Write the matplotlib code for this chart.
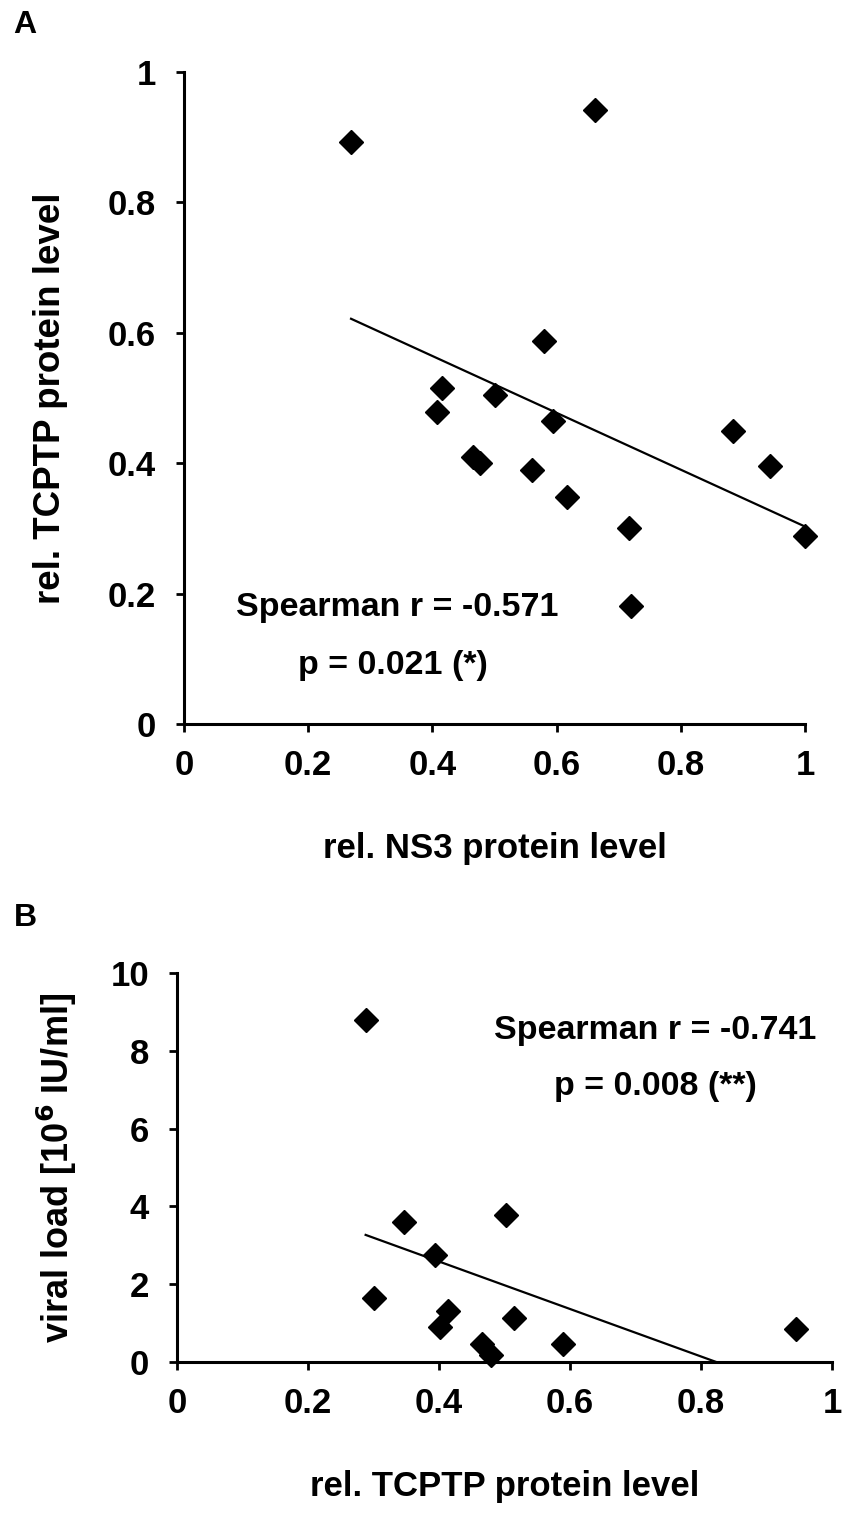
import numpy as np
import matplotlib.pyplot as plt

plt.rcParams['font.family'] = ['Liberation Sans', 'DejaVu Sans']
plt.rcParams['font.weight'] = 'bold'
plt.rcParams['axes.labelweight'] = 'bold'
plt.rcParams['mathtext.default'] = 'bf'

# panel A: NS3 vs TCPTP
ns3_a = [0.269, 0.662, 0.415, 0.408, 0.500, 0.580, 0.594, 0.465, 0.477,
         0.560, 0.616, 0.717, 0.720, 0.884, 0.943, 1.000]
tcptp_a = [0.892, 0.942, 0.515, 0.478, 0.505, 0.587, 0.464, 0.410, 0.401,
           0.389, 0.348, 0.300, 0.181, 0.449, 0.395, 0.288]

# panel B: TCPTP vs viral load
tcptp_b = [0.288, 0.347, 0.503, 0.394, 0.300, 0.413, 0.402, 0.515, 0.466,
           0.479, 0.589, 0.945]
viral_b = [8.79, 3.61, 3.79, 2.76, 1.64, 1.32, 0.89, 1.13, 0.47, 0.17, 0.45, 0.85]

ticks_a_x = [0, 0.2, 0.4, 0.6, 0.8, 1]
ticks_a_y = [0, 0.2, 0.4, 0.6, 0.8, 1]
ticks_b_x = [0, 0.2, 0.4, 0.6, 0.8, 1]
ticks_b_y = [0, 2, 4, 6, 8, 10]


def style_axes(ax, xt, yt):
    ax.spines['top'].set_visible(False)
    ax.spines['right'].set_visible(False)
    ax.spines['left'].set_linewidth(2.2)
    ax.spines['bottom'].set_linewidth(2.2)
    ax.set_xticks(xt)
    ax.set_yticks(yt)
    ax.set_xticklabels([f'{t:g}' for t in xt])
    ax.set_yticklabels([f'{t:g}' for t in yt])
    ax.tick_params(direction='out', length=6, width=2, labelsize=25)
    ax.tick_params(axis='y', pad=14)
    ax.tick_params(axis='x', pad=12)


def scatter_fit(ax, x, y):
    x = np.array(x)
    y = np.array(y)
    ax.plot(x, y, 'D', color='black', markersize=12, clip_on=False, zorder=3)
    k, b = np.polyfit(x, y, 1)
    xs = np.array([x.min(), x.max()])
    ax.plot(xs, k * xs + b, color='black', linewidth=1.6)


fig = plt.figure(figsize=(8.42, 15.19), dpi=100)

ax1 = fig.add_axes([184 / 842, 1 - 724 / 1519, 621 / 842, 652 / 1519])
scatter_fit(ax1, ns3_a, tcptp_a)
ax1.set_xlim(0, 1)
ax1.set_ylim(0, 1)
style_axes(ax1, ticks_a_x, ticks_a_y)
ax1.set_xlabel('rel. NS3 protein level', fontsize=25, labelpad=36)
ax1.set_ylabel('rel. TCPTP protein level', fontsize=26.5, labelpad=29)
ax1.text(0.344, 0.178, 'Spearman r = -0.571', fontsize=24.5, ha='center', va='center')
ax1.text(0.336, 0.090, 'p = 0.021 (*)', fontsize=24.5, ha='center', va='center')

ax2 = fig.add_axes([177 / 842, 1 - 1362 / 1519, 655 / 842, 389 / 1519])
scatter_fit(ax2, tcptp_b, viral_b)
ax2.set_xlim(0, 1)
ax2.set_ylim(0, 10)
style_axes(ax2, ticks_b_x, ticks_b_y)
ax2.set_xlabel('rel. TCPTP protein level', fontsize=25, labelpad=36)
ax2.set_ylabel('viral load [10$^6$ IU/ml]', fontsize=26, labelpad=23)
ax2.text(0.73, 8.53, 'Spearman r = -0.741', fontsize=24.5, ha='center', va='center')
ax2.text(0.73, 7.07, 'p = 0.008 (**)', fontsize=24.5, ha='center', va='center')

fig.text(13 / 842, 1 - 25 / 1519, 'A', fontsize=23, ha='left', va='center')
fig.text(14 / 842, 1 - 918 / 1519, 'B', fontsize=23, ha='left', va='center')

fig.savefig('out.png', dpi=100)
